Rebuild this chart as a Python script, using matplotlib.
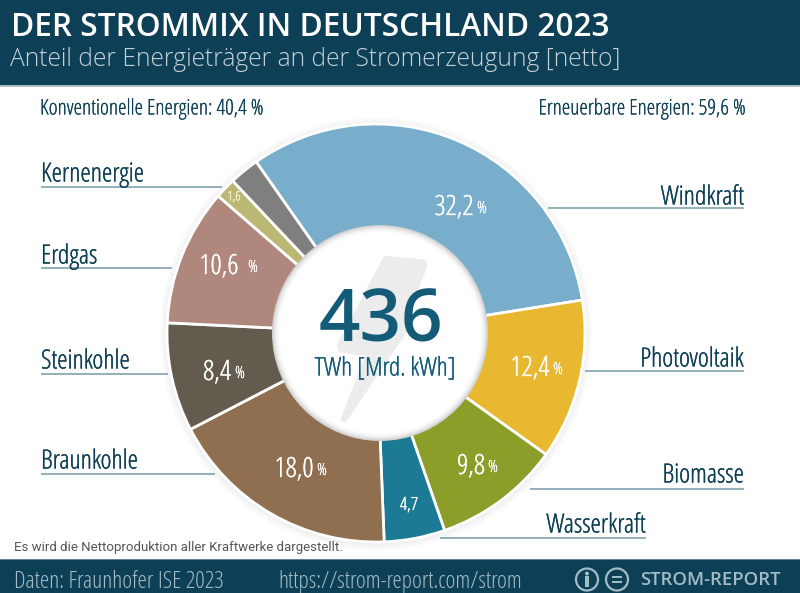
import matplotlib
matplotlib.use('Agg')
import matplotlib.pyplot as plt
from matplotlib.patches import Circle, Polygon, Rectangle
from matplotlib.patheffects import withStroke

# Werte in Prozent, im Uhrzeigersinn ab Windkraft
sources = ['Windkraft', 'Photovoltaik', 'Biomasse', 'Wasserkraft', 'Braunkohle',
           'Steinkohle', 'Erdgas', 'Kernenergie', 'Sonstige']
shares = [32.2, 12.4, 9.8, 4.7, 18.0, 8.4, 10.6, 1.6, 2.3]
share_labels = ['32,2', '12,4', '9,8', '4,7', '18,0', '8,4', '10,6', '1,6', '']
colors = ['#78adcb', '#e8b930', '#8b9e2a', '#1c7a94', '#8f6f4f',
          '#635c4e', '#b0877c', '#bab874', '#7f7f7f']

title = 'DER STROMMIX IN DEUTSCHLAND 2023'
subtitle = 'Anteil der Energieträger an der Stromerzeugung [netto]'
total = '436'
unit = 'TWh [Mrd. kWh]'

DARK = '#0d3f56'
LINE = '#94aebb'
FOOT = '#a3bcc6'

plt.rcParams['font.family'] = ['Open Sans', 'DejaVu Sans']
plt.rcParams['font.stretch'] = 'condensed'


def py(y):
    # Pixel von oben nach Achsen-y
    return 593 - y


def bold(color, width=0.2):
    # der schmale Schnitt ist recht duenn
    return [withStroke(linewidth=width, foreground=color)]


fig = plt.figure(figsize=(8, 5.93), dpi=100)
ax = fig.add_axes([0, 0, 1, 1])

# weicher Schatten um den Ring
cx, cy, r = 376, 333, 209
for i in range(8):
    ax.add_patch(Circle((cx, py(cy + 1)), r + 8 - i, color='#000000', alpha=0.006, lw=0, zorder=1))

ax.pie(shares, colors=colors, startangle=125, counterclock=False, center=(cx, py(cy)), radius=r,
       wedgeprops={'edgecolor': 'white', 'linewidth': 2.0, 'zorder': 2}, frame=False)

ax.set_xlim(0, 800)
ax.set_ylim(0, 593)
ax.set_aspect('auto')
ax.axis('off')

# Innenkreis mit Schatten am Rand
ix, iy, ir = 380, 333, 108
ax.add_patch(Circle((ix, py(iy)), ir, color='#cfcfcf', lw=0, zorder=3))
for i in range(1, 9):
    shade = 1 - 0.19 * (1 - i / 8) ** 2
    ax.add_patch(Circle((ix, py(iy)), ir - i, color=(shade, shade, shade), lw=0, zorder=3))

bolt = [(385, 257), (424, 261), (426, 266), (404, 323), (410, 325), (345, 421),
        (342, 419), (367, 355), (340, 351), (338, 346)]
ax.add_patch(Polygon([(x, py(y)) for x, y in bolt], closed=True, facecolor='#ececec',
                     edgecolor='#ececec', lw=2, joinstyle='round', zorder=4))

ax.text(381, py(322), total, color='#145b78', fontsize=52.5, fontstretch='normal', fontweight='semibold',
        ha='center', va='center', zorder=5)
ax.text(385.5, py(369), unit, color='#145b78', fontsize=18.5, ha='center', va='center', zorder=5,
        path_effects=bold('#145b78'))

# Kopf und Fuss
ax.add_patch(Rectangle((0, py(85)), 800, 85, color=DARK, lw=0, zorder=6))
ax.add_patch(Rectangle((0, py(86.5)), 800, 1.5, color='#a9bfc8', lw=0, zorder=6))
ax.add_patch(Rectangle((0, 0), 800, 34, color=DARK, lw=0, zorder=6))
ax.add_patch(Rectangle((0, 33), 800, 1.5, color='#5d8394', lw=0, zorder=6))

ax.text(11, py(27), title, color='white', fontsize=22.8, fontstretch='normal', fontweight='semibold',
        va='center', zorder=7)
ax.text(10, py(60), subtitle, color='#c4d0d6', fontsize=17.75, fontstretch='normal', fontweight='light',
        va='center', zorder=7)

ax.text(40, py(109), 'Konventionelle Energien: 40,4 %', color=DARK, fontsize=15.5, va='center',
        path_effects=bold(DARK, 0.1))
ax.text(745, py(109), 'Erneuerbare Energien: 59,6 %', color=DARK, fontsize=15.5, ha='right', va='center',
        path_effects=bold(DARK, 0.1))

# Beschriftung (Name, Textposition, Linie x0-x1, Linie y, rechtsbuendig)
callouts = [
    ('Windkraft', 744, 198, 548, 744, 208, 'right'),
    ('Photovoltaik', 744, 360, 585, 744, 371, 'right'),
    ('Biomasse', 744, 476, 530, 744, 489, 'right'),
    ('Wasserkraft', 646, 526, 440, 646, 538, 'right'),
    ('Braunkohle', 41, 462, 41, 215, 474, 'left'),
    ('Steinkohle', 41, 362, 41, 168, 374, 'left'),
    ('Erdgas', 41, 257, 41, 172, 268, 'left'),
    ('Kernenergie', 41, 175, 41, 222, 187, 'left'),
]
for name, tx, ty, x0, x1, ly, ha in callouts:
    ax.text(tx, py(ty), name, color=DARK, fontsize=19, ha=ha, va='center', zorder=3,
            path_effects=bold(DARK))
    ax.plot([x0, x1], [py(ly), py(ly)], color=LINE, lw=1.4, zorder=1.5, solid_capstyle='butt')

# Werte im Ring: x, y, Groesse, Abstand des Prozentzeichens
value_pos = {
    '32,2': (454, 208, 20, 28), '12,4': (530, 369, 20, 28), '9,8': (471, 467, 20, 22),
    '4,7': (409, 505, 13, 0), '18,0': (294, 470, 20, 28), '8,4': (217, 373, 20, 23),
    '10,6': (219, 267, 20, 34), '1,6': (234, 197, 9.5, 0),
}
for lab in share_labels:
    if not lab:
        continue
    x, y, size, gap = value_pos[lab]
    text_color = '#f4f1c8' if lab == '1,6' else 'white'
    ax.text(x, py(y), lab, color=text_color, fontsize=size, ha='center', va='center', zorder=3,
            path_effects=bold(text_color))
    if gap:
        ax.text(x + gap, py(y + 1), '%', color=text_color, fontsize=12, ha='center', va='center', zorder=3,
                path_effects=bold(text_color, 0.1))

ax.text(14, py(548), 'Es wird die Nettoproduktion aller Kraftwerke dargestellt.', color='#555555', fontsize=9.5,
        fontfamily='Roboto', fontstretch='normal', va='center', zorder=7)

ax.text(14, py(582), 'Daten: Fraunhofer ISE 2023', color=FOOT, fontsize=17.1, va='center', zorder=7)
ax.text(278, py(582), 'https://strom-report.com/strom', color=FOOT, fontsize=16.9, va='center', zorder=7)
ax.text(640, py(580), 'STROM-REPORT', color=FOOT, fontsize=13.3, fontstretch='normal', fontweight='semibold',
        va='center', zorder=7)

# Logo
for lx in (587, 617):
    ax.add_patch(Circle((lx, py(579.5)), 11, facecolor='none', edgecolor=FOOT, lw=1.6, zorder=7))
ax.add_patch(Circle((587, py(573.5)), 2, color=FOOT, lw=0, zorder=7))
ax.add_patch(Rectangle((585, py(587)), 4, 11, color=FOOT, lw=0, zorder=7))
ax.add_patch(Rectangle((612, py(577.5)), 10, 1.8, color=FOOT, lw=0, zorder=7))
ax.add_patch(Rectangle((612, py(583)), 10, 1.8, color=FOOT, lw=0, zorder=7))

fig.savefig('out.png', dpi=100)
